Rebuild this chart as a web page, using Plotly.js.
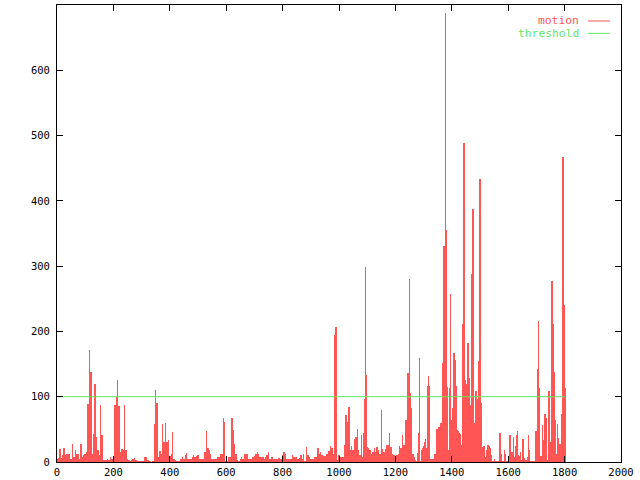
<!DOCTYPE html>
<html>
<head>
<meta charset="utf-8">
<script src="https://cdn.plot.ly/plotly-3.0.1.min.js"></script>
<style>html,body{margin:0;padding:0;background:#fff;}#chart{width:640px;height:480px;}</style>
</head>
<body>
<div id="chart"></div>
<script>
// ---- data ----
const motionX = [
  0,5,10,15,20,25,30,35,40,45,
  50,55,60,65,70,75,80,85,90,95,
  100,105,110,115,120,125,130,135,140,145,
  150,155,160,165,170,175,180,185,190,195,
  200,205,210,215,220,225,230,235,240,245,
  250,255,260,265,270,275,280,285,290,295,
  300,305,310,315,320,325,330,335,340,345,
  350,355,360,365,370,375,380,385,390,395,
  400,405,410,415,420,425,430,435,440,445,
  450,455,460,465,470,475,480,485,490,495,
  500,505,510,515,520,525,530,535,540,545,
  550,555,560,565,570,575,580,585,590,595,
  600,605,610,615,620,625,630,635,640,645,
  650,655,660,665,670,675,680,685,690,695,
  700,705,710,715,720,725,730,735,740,745,
  750,755,760,765,770,775,780,785,790,795,
  800,805,810,815,820,825,830,835,840,845,
  850,855,860,865,870,875,880,885,890,895,
  900,905,910,915,920,925,930,935,940,945,
  950,955,960,965,970,975,980,985,990,995,
  1000,1005,1010,1015,1020,1025,1030,1035,1040,1045,
  1050,1055,1060,1065,1070,1075,1080,1085,1088,1091,
  1093,1097,1101,1105,1110,1115,1120,1125,1130,1135,
  1140,1145,1150,1155,1160,1165,1170,1175,1180,1185,
  1190,1195,1200,1205,1210,1215,1220,1225,1230,1235,
  1238,1242,1245,1249,1252,1256,1260,1264,1268,1272,
  1276,1279,1282,1285,1289,1293,1296,1300,1303,1307,
  1310,1314,1317,1321,1325,1330,1335,1340,1344,1347,
  1350,1354,1358,1362,1366,1370,1373,1377,1380,1384,
  1388,1391,1395,1398,1402,1405,1408,1411,1415,1418,
  1422,1425,1429,1433,1436,1440,1443,1447,1450,1454,
  1457,1461,1464,1468,1471,1475,1479,1482,1486,1489,
  1493,1496,1500,1503,1507,1510,1514,1518,1521,1525,
  1528,1532,1535,1539,1542,1547,1551,1554,1559,1562,
  1567,1571,1574,1578,1583,1586,1590,1593,1598,1602,
  1605,1607,1611,1614,1618,1621,1625,1629,1632,1636,
  1639,1643,1646,1650,1653,1657,1660,1664,1668,1671,
  1675,1678,1682,1685,1689,1692,1696,1699,1703,1707,
  1710,1714,1717,1721,1724,1728,1731,1735,1738,1742,
  1745,1749,1753,1756,1760,1763,1767,1770,1774,1777,
  1781,1784,1788,1792,1795,1799,1802
];
const motionY = [
  4,6,20,6,10,22,10,12,12,13,
  5,28,8,19,12,13,5,27,8,10,
  13,16,89,171,138,12,43,119,39,18,
  10,87,41,3,3,3,5,3,8,5,
  5,87,100,125,86,15,20,18,87,18,
  5,3,2,3,4,6,3,2,1,1,
  1,1,7,7,3,3,1,0,1,58,
  110,90,8,17,12,58,30,59,30,34,
  9,12,46,5,3,2,2,2,5,8,
  5,10,14,5,5,5,8,10,8,9,
  10,5,5,5,5,15,48,22,19,13,
  5,5,5,5,8,8,12,12,67,61,
  1,1,8,8,68,49,27,12,3,2,
  4,7,5,12,12,12,5,5,5,8,
  9,12,15,12,8,8,8,4,8,10,
  15,5,8,8,5,5,5,6,6,5,
  11,15,12,5,5,5,5,11,8,8,
  8,5,6,11,5,12,2,23,11,8,
  5,5,5,7,7,22,12,15,10,9,
  9,13,13,17,25,22,13,194,207,3,
  11,8,8,8,26,72,62,84,18,24,
  19,36,39,51,18,11,41,8,44,97,
  299,133,23,21,18,13,16,21,16,23,
  18,13,80,20,16,20,26,26,45,23,
  13,11,8,11,12,24,21,41,26,26,
  65,40,137,280,106,82,12,12,8,3,
  2,14,44,159,1,19,21,24,31,36,
  21,116,132,116,4,4,5,13,11,50,
  15,54,20,59,151,230,331,688,355,115,
  19,114,257,65,82,110,167,156,116,49,
  48,44,43,26,22,211,489,126,120,62,
  182,128,74,87,288,387,59,23,109,97,
  59,155,433,90,1,23,24,8,2,19,
  26,25,22,11,2,2,4,2,1,2,
  1,44,12,1,1,18,13,1,1,2,
  1,41,8,16,39,7,24,41,47,11,
  9,16,3,3,36,6,3,3,7,41,
  18,1,1,1,1,2,1,48,142,216,
  114,9,9,57,34,64,73,67,3,64,
  108,30,28,277,212,138,65,12,58,37,
  13,28,73,128,467,240,113
];
const thresholdValue = 100;
const thresholdX = [motionX[0], motionX[motionX.length - 1]];
const thresholdY = [thresholdValue, thresholdValue];
const xTicks = [0, 200, 400, 600, 800, 1000, 1200, 1400, 1600, 1800, 2000];
const yTicks = [0, 100, 200, 300, 400, 500, 600, 700];
const seriesNames = ["motion", "threshold"];

// ---- styles ----
const RED = "#ff5555";
const GREEN = "#5fe65f";
const FONT = "DejaVu Sans Mono, Liberation Mono, monospace";

const traces = [
  {
    type: "bar",
    name: seriesNames[0],
    x: motionX,
    y: motionY,
    width: 5,
    marker: { color: RED, line: { width: 0 } },
    showlegend: false,
    hoverinfo: "skip"
  },
  {
    type: "scatter",
    mode: "lines",
    name: seriesNames[1],
    x: thresholdX,
    y: thresholdY,
    line: { color: GREEN, width: 1 },
    showlegend: false,
    hoverinfo: "skip"
  }
];

const axisCommon = {
  showline: true,
  linecolor: "#000",
  linewidth: 1,
  mirror: "ticks",
  ticks: "inside",
  ticklen: 6,
  tickwidth: 1,
  tickcolor: "#000",
  showgrid: false,
  zeroline: false,
  tickfont: { family: FONT, size: 10.5, color: "#000" },
  fixedrange: true
};

const legX0 = 0.9415, legX1 = 0.9805, legTextX = 0.927;
const legY = [0.965, 0.938];

const layout = {
  width: 640,
  height: 480,
  margin: { l: 57, r: 19, t: 5, b: 18, pad: 0 },
  paper_bgcolor: "#fff",
  plot_bgcolor: "#fff",
  font: { family: FONT, size: 10.5, color: "#000" },
  bargap: 0,
  xaxis: Object.assign({}, axisCommon, { range: [0, 2000], tickvals: xTicks, ticktext: xTicks.map(String) }),
  yaxis: Object.assign({}, axisCommon, { range: [0, 700], tickvals: yTicks, ticktext: yTicks.map(String), ticklabelstandoff: 4 }),
  annotations: [
    { xref: "paper", yref: "paper", x: legTextX, y: legY[0], xanchor: "right", yanchor: "middle",
      text: seriesNames[0], showarrow: false, borderpad: 0, font: { family: FONT, size: 11.3, color: RED } },
    { xref: "paper", yref: "paper", x: legTextX, y: legY[1], xanchor: "right", yanchor: "middle",
      text: seriesNames[1], showarrow: false, borderpad: 0, font: { family: FONT, size: 11.3, color: GREEN } }
  ],
  shapes: [
    { type: "line", xref: "paper", yref: "paper", x0: legX0, x1: legX1, y0: legY[0], y1: legY[0],
      line: { color: RED, width: 1 } },
    { type: "line", xref: "paper", yref: "paper", x0: legX0, x1: legX1, y0: legY[1], y1: legY[1],
      line: { color: GREEN, width: 1 } }
  ]
};

Plotly.newPlot("chart", traces, layout, { displayModeBar: false, staticPlot: true });
</script>
</body>
</html>
